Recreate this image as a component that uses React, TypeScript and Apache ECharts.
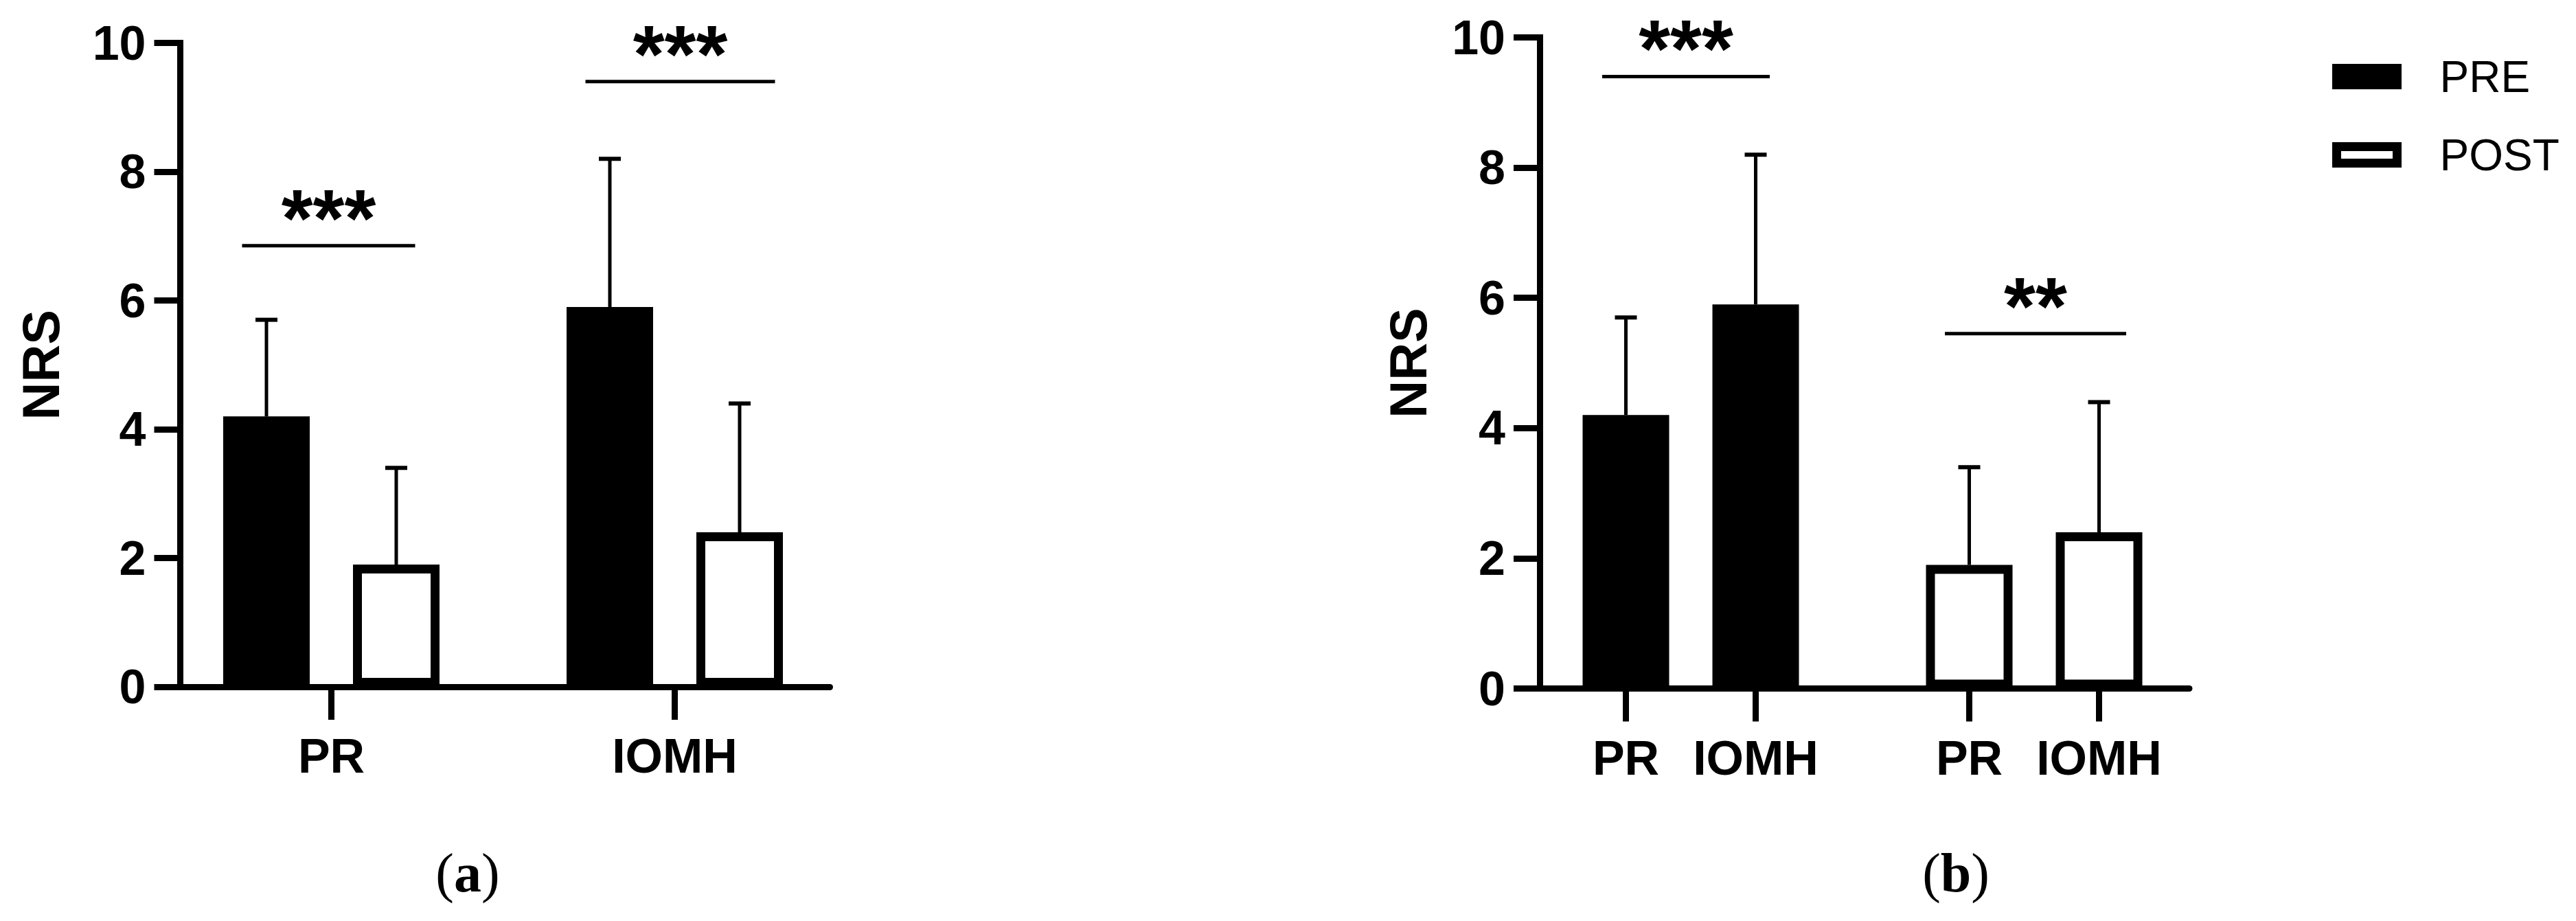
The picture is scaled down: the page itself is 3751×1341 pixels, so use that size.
import React, { useEffect, useRef } from 'react';
import * as echarts from 'echarts';

// ---------- data ----------
const CATEGORIES_A = ['PR', 'IOMH'];      // panel (a) x groups
const GROUPS_B = ['PRE', 'POST'];         // panel (b) x groups
const PRE_MEAN = [4.2, 5.9];              // PR, IOMH
const PRE_SD = [1.5, 2.3];
const POST_MEAN = [1.9, 2.4];
const POST_SD = [1.5, 2.0];
const Y_MIN = 0;
const Y_MAX = 10;
const Y_INTERVAL = 2;
const SIG_A_Y = [6.85, 9.4];
const SIG_A_LABEL = ['***', '***'];
const SIG_B_Y = [9.4, 5.45];
const SIG_B_LABEL = ['***', '**'];
const CAPTIONS = ['a', 'b'];

// ---------- layout / style ----------
const FONT = 'Liberation Sans, Arial, sans-serif';
const SERIF = 'Liberation Serif, Times New Roman, serif';
const X_MIN = 0.56;
const X_MAX = 2.452;
const GRID_W = 946;
const PX_PER_UNIT = GRID_W / (X_MAX - X_MIN);
const BAR_W = 126;
const BORDER = 13;
const BAR_GAP_PX = 63;
const BAR_OFFSET = (BAR_W + BAR_GAP_PX) / 2;
const D_UNITS = BAR_OFFSET / PX_PER_UNIT;
const SIG_LAYOUT_A = { dx: [-4, 8], half: [126, 138] };
const SIG_LAYOUT_B = { dx: [-7, 2], half: [122, 132] };

const preStyle = { color: '#000', borderColor: '#000', borderWidth: BORDER };
const postStyle = { color: '#fff', borderColor: '#000', borderWidth: BORDER };

const labelFont = { fontFamily: FONT, fontWeight: 'bold', fontSize: 70, color: '#000' };

function xAxisCfg(gridIndex: number, ticks: number[], labels: string[]) {
  return {
    type: 'value',
    gridIndex,
    min: X_MIN,
    max: X_MAX,
    splitLine: { show: false },
    axisLine: { show: true, onZero: false, lineStyle: { color: '#000', width: 9 } },
    axisTick: { show: true, customValues: ticks, length: 48, lineStyle: { color: '#000', width: 9 } },
    axisLabel: {
      show: true,
      customValues: ticks,
      margin: 66,
      ...labelFont,
      formatter: (v: number) => {
        const k = ticks.findIndex((t) => Math.abs(t - v) < 1e-6);
        return k >= 0 ? labels[k] : '';
      },
    },
  };
}

function yAxisCfg(gridIndex: number, nameGap: number) {
  return {
    type: 'value',
    gridIndex,
    min: Y_MIN,
    max: Y_MAX,
    interval: Y_INTERVAL,
    name: 'NRS',
    nameLocation: 'middle',
    nameRotate: 90,
    nameGap,
    nameTextStyle: { fontFamily: FONT, fontWeight: 'bold', fontSize: 76, color: '#000' },
    splitLine: { show: false },
    axisLine: { show: true, onZero: false, lineStyle: { color: '#000', width: 9, cap: 'square' } },
    axisTick: { show: true, length: 38, lineStyle: { color: '#000', width: 9 } },
    axisLabel: { margin: 50, ...labelFont },
  };
}

function errSeries(name: string, axisIndex: number, offset: number, data: number[][]) {
  return {
    type: 'custom',
    name: name + '_err',
    xAxisIndex: axisIndex,
    yAxisIndex: axisIndex,
    z: 1,
    silent: true,
    data,
    renderItem: (params: any, api: any) => {
      const x = api.value(0);
      const m = api.value(1);
      const s = api.value(2);
      const b = api.coord([x, m]);
      const t = api.coord([x, m + s]);
      const cx = b[0] + offset;
      return {
        type: 'group',
        children: [
          { type: 'line', shape: { x1: cx, y1: b[1], x2: cx, y2: t[1] }, style: { stroke: '#000', lineWidth: 5 } },
          { type: 'line', shape: { x1: cx - 16, y1: t[1], x2: cx + 16, y2: t[1] }, style: { stroke: '#000', lineWidth: 6 } },
        ],
      };
    },
  };
}

function sigSeries(axisIndex: number, ys: number[], labels: string[], layout: { dx: number[]; half: number[] }) {
  return {
    type: 'custom',
    name: 'sig' + axisIndex,
    xAxisIndex: axisIndex,
    yAxisIndex: axisIndex,
    z: 3,
    silent: true,
    data: ys.map((y, i) => [i + 1, y]),
    renderItem: (params: any, api: any) => {
      const i = params.dataIndex;
      const c = api.coord([api.value(0), api.value(1)]);
      const cx = c[0] + layout.dx[i];
      const half = layout.half[i];
      return {
        type: 'group',
        children: [
          { type: 'line', shape: { x1: cx - half, y1: c[1], x2: cx + half, y2: c[1] }, style: { stroke: '#000', lineWidth: 5 } },
          {
            type: 'text',
            x: cx,
            y: c[1] - 40,
            style: {
              text: labels[i],
              fill: '#000',
              fontFamily: FONT,
              fontWeight: 'bold',
              fontSize: 118,
              align: 'center',
              verticalAlign: 'middle',
            },
          },
        ],
      };
    },
  };
}

export default function App() {
  const ref = useRef<HTMLDivElement>(null);

  useEffect(() => {
    if (!ref.current) return;
    const chart = echarts.init(ref.current, null, { renderer: 'svg' });

    const ticksA = CATEGORIES_A.map((_, i) => i + 1);
    const ticksB: number[] = [];
    const labelsB: string[] = [];
    GROUPS_B.forEach((_, g) => {
      CATEGORIES_A.forEach((c, k) => {
        ticksB.push(g + 1 + (k === 0 ? -D_UNITS : D_UNITS));
        labelsB.push(c);
      });
    });

    const meanOf = (g: number, k: number) => (g === 0 ? PRE_MEAN[k] : POST_MEAN[k]);
    const sdOf = (g: number, k: number) => (g === 0 ? PRE_SD[k] : POST_SD[k]);
    const gapPct = (BAR_GAP_PX / BAR_W) * 100 + '%';

    const option: any = {
      animation: false,
      backgroundColor: '#fff',
      grid: [
        { left: 262.5, top: 62.5, width: GRID_W, height: 937.5 },
        { left: 2242, top: 54.5, width: GRID_W, height: 948 },
      ],
      xAxis: [xAxisCfg(0, ticksA, CATEGORIES_A), xAxisCfg(1, ticksB, labelsB)],
      yAxis: [yAxisCfg(0, 165), yAxisCfg(1, 154)],
      legend: {
        orient: 'vertical',
        left: 3391,
        top: 74.5,
        icon: 'rect',
        itemWidth: 88,
        itemHeight: 24,
        itemGap: 50,
        selectedMode: false,
        data: [
          { name: 'PRE', itemStyle: preStyle },
          { name: 'POST', itemStyle: postStyle },
        ],
        textStyle: { fontFamily: FONT, fontSize: 64, color: '#000', padding: [0, 0, 0, 57] },
      },
      graphic: CAPTIONS.map((c, i) => ({
        type: 'text',
        x: i === 0 ? 681 : 2848,
        y: 1271,
        style: {
          text: '{p|(}{b|' + c + '}{p|)}',
          align: 'center',
          verticalAlign: 'middle',
          rich: {
            p: { fontFamily: SERIF, fontSize: 80, color: '#000' },
            b: { fontFamily: SERIF, fontSize: 80, fontWeight: 'bold', color: '#000' },
          },
        },
      })),
      series: [
        // panel (a): groups PR / IOMH, series PRE / POST
        {
          type: 'bar',
          name: 'PRE',
          xAxisIndex: 0,
          yAxisIndex: 0,
          barWidth: BAR_W,
          barGap: gapPct,
          itemStyle: preStyle,
          z: 2,
          data: CATEGORIES_A.map((_, i) => [i + 1, PRE_MEAN[i]]),
        },
        {
          type: 'bar',
          name: 'POST',
          xAxisIndex: 0,
          yAxisIndex: 0,
          barWidth: BAR_W,
          barGap: gapPct,
          itemStyle: postStyle,
          z: 2,
          data: CATEGORIES_A.map((_, i) => [i + 1, POST_MEAN[i]]),
        },
        errSeries('PRE', 0, -BAR_OFFSET, CATEGORIES_A.map((_, i) => [i + 1, PRE_MEAN[i], PRE_SD[i]])),
        errSeries('POST', 0, BAR_OFFSET, CATEGORIES_A.map((_, i) => [i + 1, POST_MEAN[i], POST_SD[i]])),
        sigSeries(0, SIG_A_Y, SIG_A_LABEL, SIG_LAYOUT_A),
        // panel (b): groups PRE / POST, series PR / IOMH
        ...CATEGORIES_A.map((c, k) => ({
          type: 'bar',
          name: c,
          xAxisIndex: 1,
          yAxisIndex: 1,
          barWidth: BAR_W,
          barGap: gapPct,
          z: 2,
          data: GROUPS_B.map((_, g) => ({
            value: [g + 1, meanOf(g, k)],
            itemStyle: g === 0 ? preStyle : postStyle,
          })),
        })),
        ...CATEGORIES_A.map((c, k) =>
          errSeries(c + 'b', 1, k === 0 ? -BAR_OFFSET : BAR_OFFSET, GROUPS_B.map((_, g) => [g + 1, meanOf(g, k), sdOf(g, k)]))
        ),
        sigSeries(1, SIG_B_Y, SIG_B_LABEL, SIG_LAYOUT_B),
      ],
    };

    chart.setOption(option);
    return () => chart.dispose();
  }, []);

  return <div ref={ref} style={{ position: 'absolute', left: 0, top: 0, width: 3751, height: 1341 }} />;
}
